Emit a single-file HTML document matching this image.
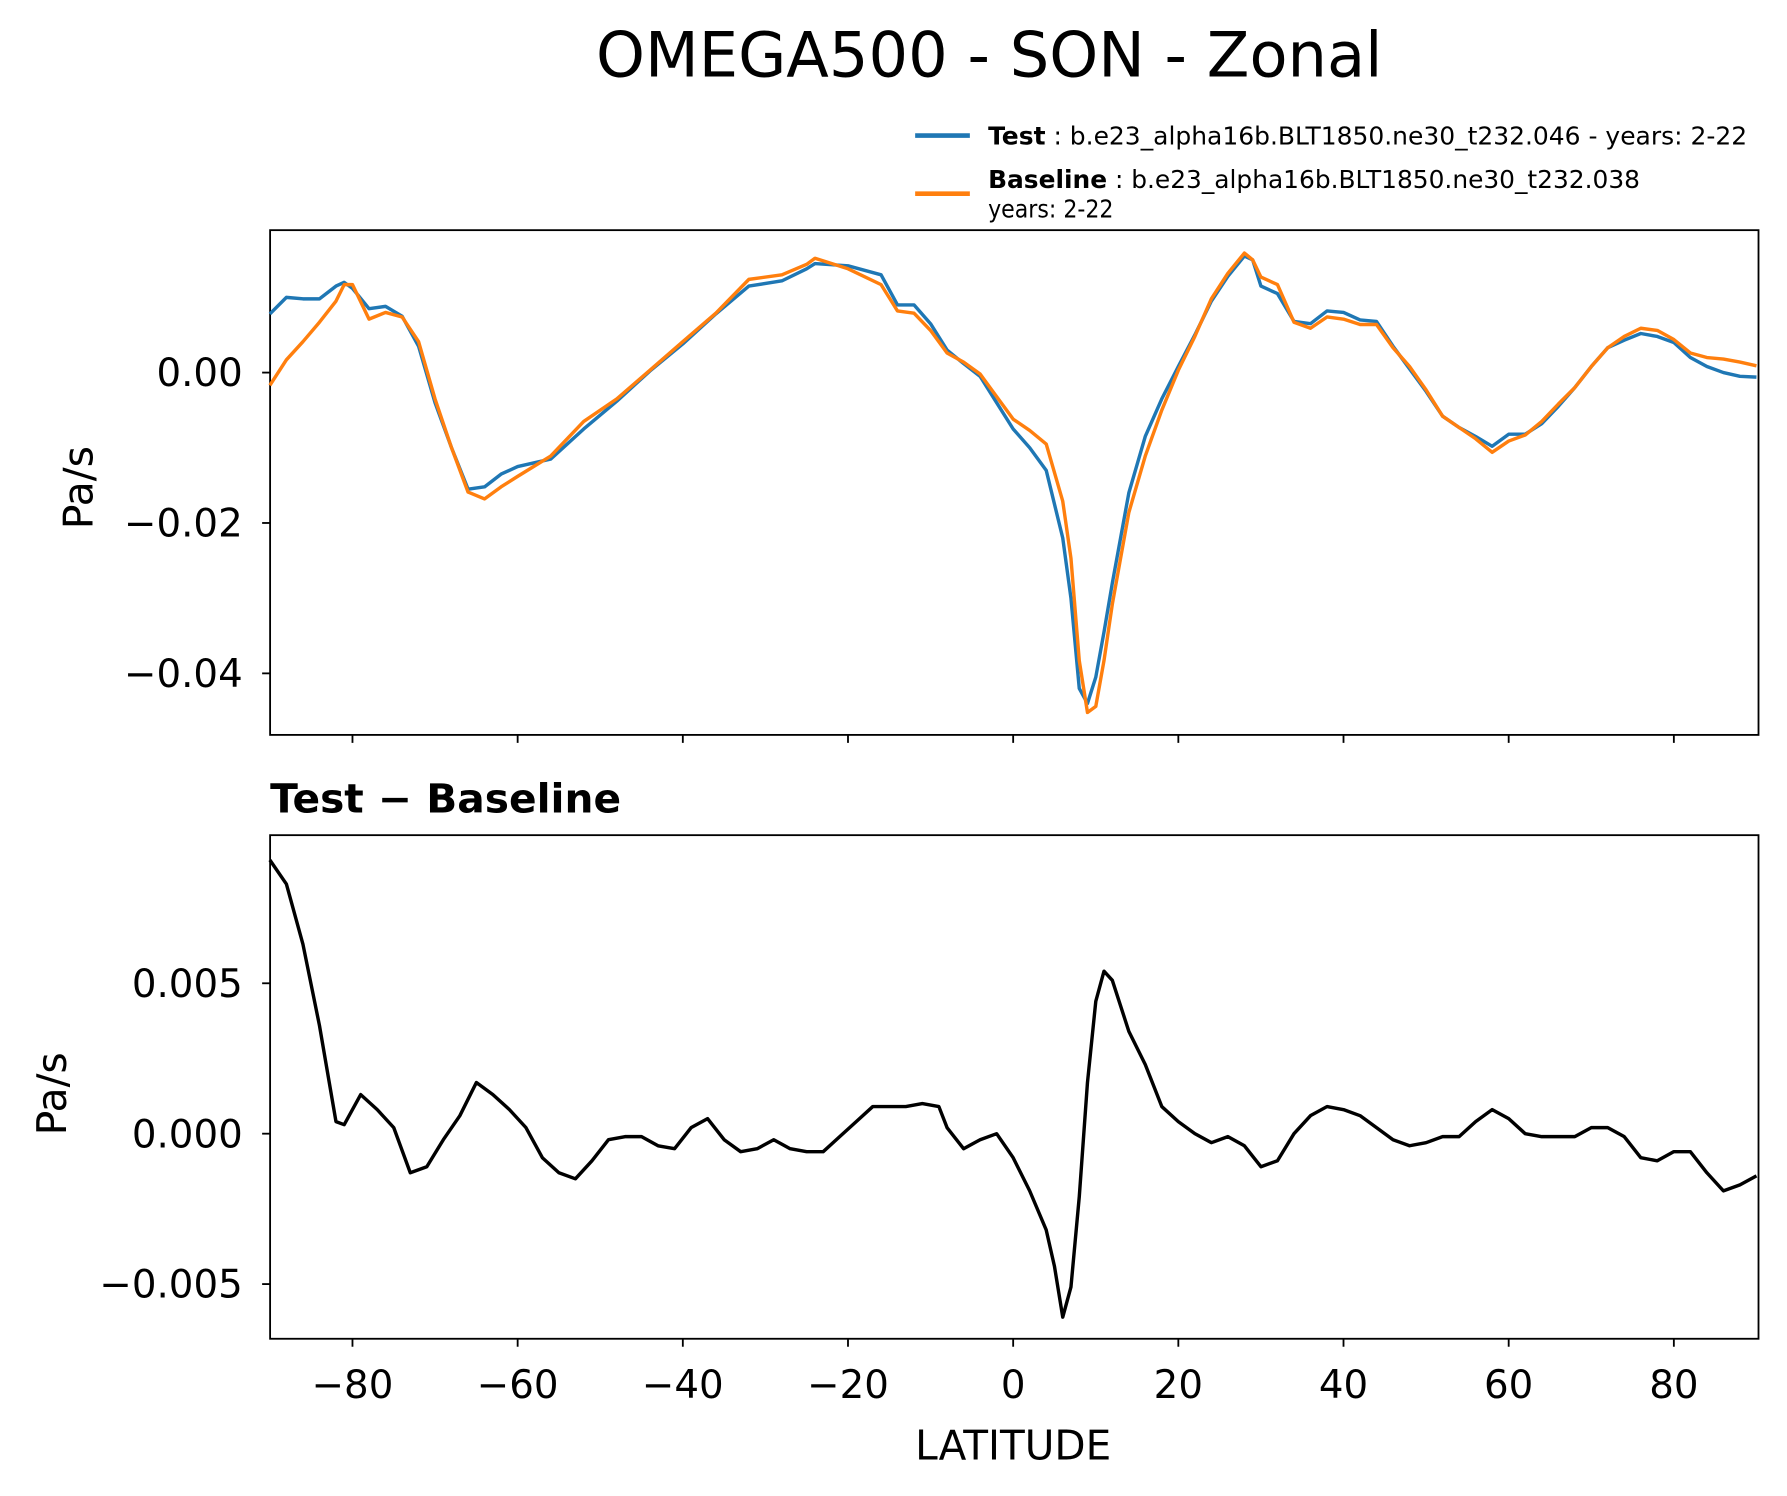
<!DOCTYPE html>
<html><head><meta charset="utf-8"><style>
html,body{margin:0;padding:0;background:#fff;}
svg{display:block;font-family:"DejaVu Sans","Liberation Sans",sans-serif;}
</style></head><body>
<svg id="chart" width="1787" height="1496" viewBox="0 0 1568 1313" preserveAspectRatio="none" xmlns="http://www.w3.org/2000/svg">
<rect width="1568" height="1313" fill="#fff"/>
<text x="868" y="67" font-size="55" text-anchor="middle" textLength="690" lengthAdjust="spacingAndGlyphs">OMEGA500 - SON - Zonal</text>
<g>
<line x1="803" y1="119" x2="851" y2="119" stroke="#1f77b4" stroke-width="4"/>
<text x="867" y="127" font-size="22" textLength="666" lengthAdjust="spacingAndGlyphs"><tspan font-weight="bold">Test</tspan> : b.e23_alpha16b.BLT1850.ne30_t232.046 - years: 2-22</text>
<line x1="803" y1="170" x2="851" y2="170" stroke="#ff7f0e" stroke-width="4"/>
<text x="867" y="165" font-size="22" textLength="572" lengthAdjust="spacingAndGlyphs"><tspan font-weight="bold">Baseline</tspan> : b.e23_alpha16b.BLT1850.ne30_t232.038</text>
<text x="867" y="191" font-size="22" textLength="110" lengthAdjust="spacingAndGlyphs">years: 2-22</text>
</g>
<text x="237" y="713" font-size="35" font-weight="bold" textLength="308" lengthAdjust="spacingAndGlyphs">Test − Baseline</text>
<text x="889" y="1281" font-size="36" text-anchor="middle" textLength="172" lengthAdjust="spacingAndGlyphs">LATITUDE</text>
<text transform="translate(81,428) rotate(-90)" font-size="36" text-anchor="middle">Pa/s</text>
<text transform="translate(58,960) rotate(-90)" font-size="36" text-anchor="middle">Pa/s</text>
<g id="g"></g>
</svg>
<script>
const lats = [-90,-88,-86,-84,-82,-81,-80,-78,-76,-74,-72,-70,-68,-66,-64,-62,-60,-56,-52,-48,-44,-40,-36,-32,-28,-25,-24,-20,-16,-14,-12,-10,-8,-6,-4,-2,0,2,4,6,7,8,9,10,11,12,14,16,18,20,22,24,26,28,29,30,32,34,36,38,40,42,44,46,48,50,52,54,56,58,60,62,64,66,68,70,72,74,76,78,80,82,84,86,88,90];
const baseline = [-0.0017,0.0017,0.0041,0.0067,0.0095,0.0117,0.0117,0.0071,0.008,0.0074,0.0041,-0.0035,-0.010,-0.0159,-0.0168,-0.0152,-0.0138,-0.0111,-0.0065,-0.0035,0.0003,0.0041,0.0079,0.0124,0.013,0.0144,0.0152,0.0138,0.0117,0.0082,0.0079,0.0056,0.0026,0.0014,-0.0002,-0.0032,-0.0062,-0.0077,-0.0095,-0.0171,-0.0247,-0.0383,-0.0452,-0.0444,-0.0383,-0.0308,-0.0186,-0.0111,-0.005,0.0003,0.0048,0.0098,0.0132,0.0159,0.015,0.0127,0.0117,0.0067,0.0059,0.0074,0.0071,0.0064,0.0064,0.0033,0.0008,-0.0023,-0.0058,-0.0073,-0.0088,-0.0106,-0.0091,-0.0083,-0.0065,-0.0042,-0.002,0.0008,0.0033,0.0048,0.0059,0.0056,0.0044,0.0026,0.002,0.0018,0.0014,0.0009];
const test = [0.0078,0.0100,0.0098,0.0098,0.0115,0.0120,0.0112,0.0085,0.0088,0.0075,0.0035,-0.0040,-0.0100,-0.0155,-0.0152,-0.0135,-0.0125,-0.0115,-0.0075,-0.0038,0.0002,0.0038,0.0078,0.0115,0.0122,0.0138,0.0145,0.0142,0.0130,0.0090,0.0090,0.0065,0.0030,0.0012,-0.0005,-0.0040,-0.0075,-0.0100,-0.0130,-0.0220,-0.0300,-0.0420,-0.0440,-0.0405,-0.0345,-0.0280,-0.0160,-0.0085,-0.0035,0.0008,0.0050,0.0095,0.0128,0.0155,0.0150,0.0115,0.0105,0.0068,0.0065,0.0082,0.0080,0.0070,0.0068,0.0035,0.0005,-0.0025,-0.0058,-0.0073,-0.0085,-0.0098,-0.0082,-0.0082,-0.0068,-0.0045,-0.0020,0.0008,0.0033,0.0043,0.0052,0.0048,0.0040,0.0020,0.0008,0.0000,-0.0005,-0.0006];
const diffLats = [-90,-88,-86,-84,-82,-81,-79,-77,-75,-73,-71,-69,-67,-65,-63,-61,-59,-57,-55,-53,-51,-49,-47,-45,-43,-41,-39,-37,-35,-33,-31,-29,-27,-25,-23,-21,-19,-17,-15,-13,-11,-9,-8,-6,-4,-2,0,2,4,5,6,7,8,9,10,11,12,14,16,18,20,22,24,26,28,30,32,34,36,38,40,42,44,46,48,50,52,54,56,58,60,62,64,66,68,70,72,74,76,78,80,82,84,86,88,90];
const diff = [0.0091,0.0083,0.0063,0.0036,0.0004,0.0003,0.0013,0.0008,0.0002,-0.0013,-0.0011,-0.0002,0.0006,0.0017,0.0013,0.0008,0.0002,-0.0008,-0.0013,-0.0015,-0.0009,-0.0002,-0.0001,-0.0001,-0.0004,-0.0005,0.0002,0.0005,-0.0002,-0.0006,-0.0005,-0.0002,-0.0005,-0.0006,-0.0006,-0.0001,0.0004,0.0009,0.0009,0.0009,0.001,0.0009,0.0002,-0.0005,-0.0002,0,-0.0008,-0.0019,-0.0032,-0.0044,-0.0061,-0.0051,-0.0021,0.0017,0.0044,0.0054,0.0051,0.0034,0.0023,0.0009,0.0004,0,-0.0003,-0.0001,-0.0004,-0.0011,-0.0009,0,0.0006,0.0009,0.0008,0.0006,0.0002,-0.0002,-0.0004,-0.0003,-0.0001,-0.0001,0.0004,0.0008,0.0005,0,-0.0001,-0.0001,-0.0001,0.0002,0.0002,-0.0001,-0.0008,-0.0009,-0.0006,-0.0006,-0.0013,-0.0019,-0.0017,-0.0014];
const xTicks = [-80,-60,-40,-20,0,20,40,60,80];
const topTicks = [0, -0.02, -0.04];
const topTickLabels = ["0.00","−0.02","−0.04"];
const botTicks = [0.005, 0, -0.005];
const botTickLabels = ["0.005","0.000","−0.005"];

const NS="http://www.w3.org/2000/svg";
const g=document.getElementById('g');
const L=237,R=1543;
const x=v=>889+(v)*7.2465;
const yTop=v=>327-v/0.02*132;
const yBot=v=>995-v/0.005*132;
function el(t,a){const e=document.createElementNS(NS,t);for(const k in a)e.setAttribute(k,a[k]);g.appendChild(e);return e;}
function panel(name,top,bot,yf,ticks,labels,showX){
  const r=el('rect',{x:L,y:top,width:R-L,height:bot-top,fill:'none',stroke:'#000','stroke-width':1.6});
  
  
  ticks.forEach((t,i)=>{
    const yy=yf(t);
    const tl=el('line',{x1:L-7,x2:L,y1:yy,y2:yy,stroke:'#000','stroke-width':1.6});
    
    
    const tx=el('text',{x:L-24,y:yy+12,'font-size':34,'text-anchor':'end'});
    tx.textContent=labels[i];
    
    
  });
  xTicks.forEach(t=>{
    const xx=x(t);
    const tl=el('line',{x1:xx,x2:xx,y1:bot,y2:bot+7,stroke:'#000','stroke-width':1.6});
    
    
    if(showX){
      const tx=el('text',{x:xx,y:bot+52,'font-size':34,'text-anchor':'middle'});
      tx.textContent=t<0?'−'+(-t):String(t);
      
      
    }
  });
}
function line(xs,vs,yf,color,name){
  const d=xs.map((l,i)=>(i?'L':'M')+x(l).toFixed(1)+','+yf(vs[i]).toFixed(1)).join('');
  const p=el('path',{d:d,fill:'none',stroke:color,'stroke-width':3,'stroke-linejoin':'round'});
  
  
}
panel('top-panel',202,645,yTop,topTicks,topTickLabels,false);
line(lats,test,yTop,'#1f77b4','test-line');
line(lats,baseline,yTop,'#ff7f0e','baseline-line');
panel('diff-panel',733,1175,yBot,botTicks,botTickLabels,true);
line(diffLats,diff,yBot,'#000','diff-line');
</script>
</body></html>
